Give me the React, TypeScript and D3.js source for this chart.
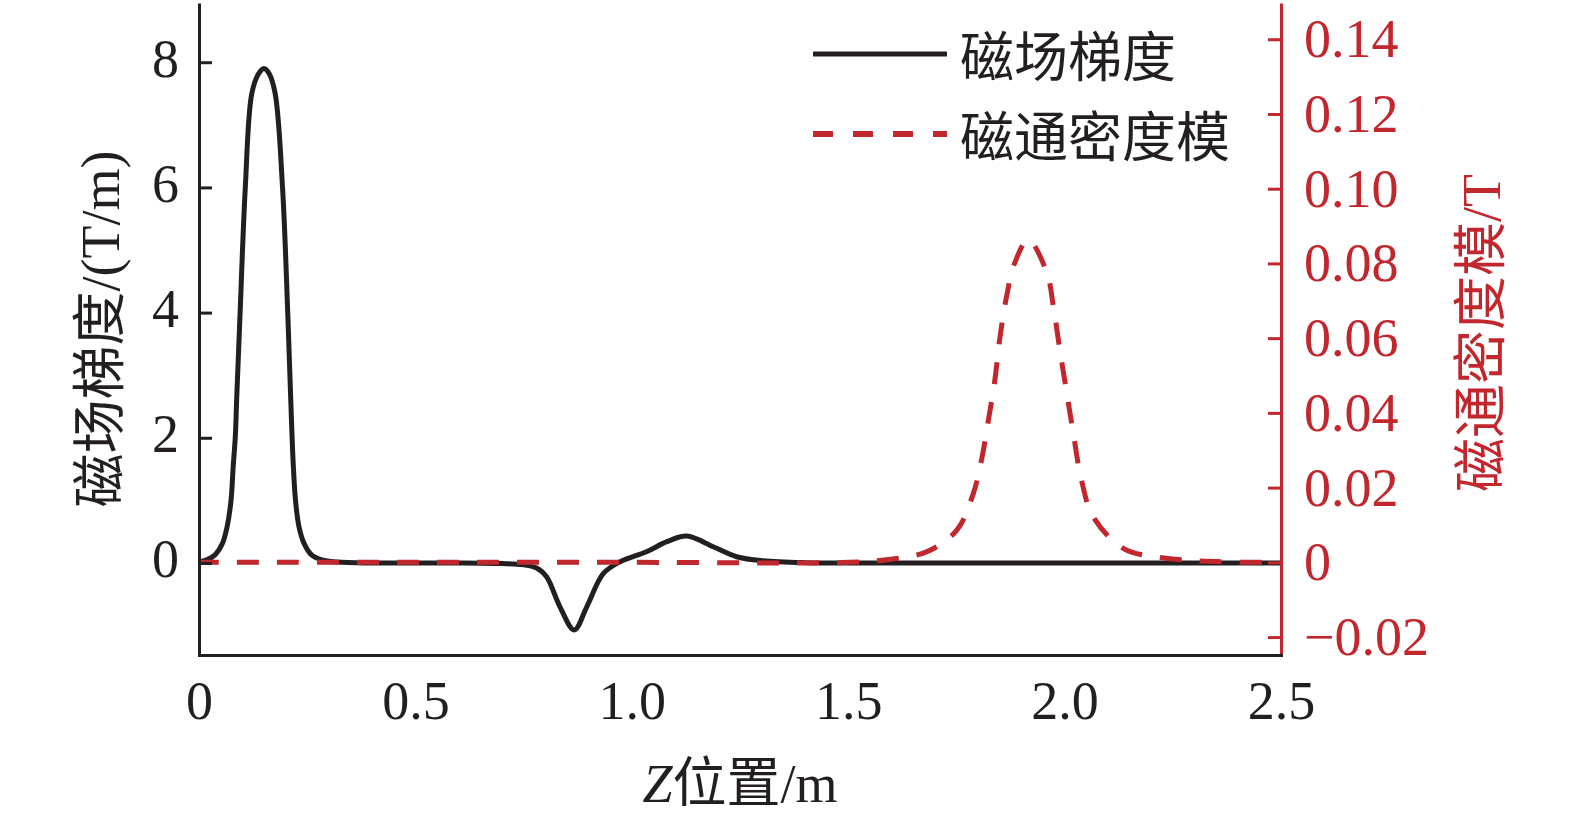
import React, { useRef, useEffect } from 'react';
import * as d3 from 'd3';

// 磁场梯度 (T/m) sampled along Z (m)
const zGrad = [
  0, 0.018, 0.037, 0.054, 0.065, 0.074, 0.079, 0.084, 0.087, 0.095, 0.107, 0.122, 0.138,
  0.15, 0.162, 0.176, 0.193, 0.205, 0.212, 0.215, 0.218, 0.223, 0.231, 0.243, 0.26, 0.284,
  0.32, 0.4, 0.6, 0.7, 0.75, 0.78, 0.803, 0.834, 0.867, 0.896, 0.934, 0.973, 1.034, 1.081,
  1.127, 1.188, 1.242, 1.304, 1.4, 1.6, 2.0, 2.5,
];
const gradValues = [
  0.02, 0.05, 0.13, 0.31, 0.58, 1.0, 1.54, 2.03, 2.61, 4.0, 6.0, 7.5, 7.82,
  7.9, 7.82, 7.5, 6.0, 4.0, 2.61, 2.03, 1.54, 1.0, 0.58, 0.31, 0.13, 0.05,
  0.015, 0, 0, -0.01, -0.03, -0.08, -0.22, -0.7, -1.07, -0.7, -0.17, 0.02, 0.18, 0.34,
  0.43, 0.26, 0.1, 0.035, 0.005, 0, 0, 0,
];

// 磁通密度模 (T) sampled along Z (m)
const zFlux = [
  0, 0.5, 1.0, 1.5, 1.589, 1.681, 1.751, 1.789, 1.808, 1.824, 1.839, 1.851, 1.866, 1.885,
  1.916, 1.959, 1.974, 1.989, 2.005, 2.02, 2.039, 2.066, 2.136, 2.22, 2.35, 2.5,
];
const fluxValues = [
  0, 0, 0, 0, 0.0007, 0.0028, 0.0086, 0.0184, 0.0274, 0.0381, 0.0489, 0.0605, 0.0712, 0.0802,
  0.0863, 0.0775, 0.0685, 0.0569, 0.0453, 0.0346, 0.022, 0.0122, 0.0037, 0.0013, 0.0002, 0,
];

const xTicks = [0, 0.5, 1.0, 1.5, 2.0, 2.5];
const xTickLabels = ['0', '0.5', '1.0', '1.5', '2.0', '2.5'];
const leftTicks = [0, 2, 4, 6, 8];
const rightTicks = [-0.02, 0, 0.02, 0.04, 0.06, 0.08, 0.1, 0.12, 0.14];
const rightTickLabels = ['\u22120.02', '0', '0.02', '0.04', '0.06', '0.08', '0.10', '0.12', '0.14'];
const legendLabels = ['磁场梯度', '磁通密度模'];

const WIDTH = 1575;
const HEIGHT = 819;
const INK = '#231f20';
const RED = '#c1272d';
const FONT = "'Liberation Serif', 'Times New Roman', 'Noto Sans CJK SC', serif";

const App: React.FC = () => {
  const svgRef = useRef<SVGSVGElement>(null);

  useEffect(() => {
    if (!svgRef.current) return;
    const svg = d3.select(svgRef.current);
    svg.selectAll('*').remove();

    const plot = { left: 199, right: 1281, top: 3, bottom: 655 };

    const x = d3.scaleLinear().domain([0, 2.5]).range([plot.left, plot.right]);
    const yLeft = d3.scaleLinear().domain([-1.47, 8.946]).range([plot.bottom, plot.top]);
    const yRight = d3.scaleLinear().domain([-0.0248, 0.1497]).range([plot.bottom, plot.top]);

    // curves
    const gradLine = d3.line<number>()
      .x((d, i) => x(zGrad[i]))
      .y(d => yLeft(d))
      .curve(d3.curveCatmullRom.alpha(0.5));

    const fluxLine = d3.line<number>()
      .x((d, i) => x(zFlux[i]))
      .y(d => yRight(d))
      .curve(d3.curveCatmullRom.alpha(0.5));

    svg.append('path')
      .datum(gradValues)
      .attr('fill', 'none')
      .attr('stroke', INK)
      .attr('stroke-width', 5)
      .attr('stroke-linejoin', 'round')
      .attr('d', gradLine);

    svg.append('path')
      .datum(fluxValues)
      .attr('fill', 'none')
      .attr('stroke', RED)
      .attr('stroke-width', 5)
      .attr('stroke-dasharray', '22,18')
      .attr('stroke-dashoffset', 2)
      .attr('d', fluxLine);

    // left axis (ticks pointing inward)
    const left = svg.append('g')
      .attr('transform', `translate(${plot.left},0)`)
      .call(
        d3.axisLeft(yLeft)
          .tickValues(leftTicks)
          .tickSizeInner(-13)
          .tickSizeOuter(0)
          .tickPadding(20)
          .tickFormat(d3.format('d'))
      );
    left.select('.domain').attr('stroke', INK).attr('stroke-width', 3);
    left.selectAll('.tick line').attr('stroke', INK).attr('stroke-width', 3);
    left.selectAll('text')
      .attr('dy', 14)
      .style('font-family', FONT)
      .style('font-size', '54px')
      .style('fill', INK);

    // right axis
    const right = svg.append('g')
      .attr('transform', `translate(${plot.right},0)`)
      .call(
        d3.axisRight(yRight)
          .tickValues(rightTicks)
          .tickSizeInner(-13)
          .tickSizeOuter(0)
          .tickPadding(23)
          .tickFormat((d, i) => rightTickLabels[i])
      );
    right.select('.domain').attr('stroke', RED).attr('stroke-width', 3);
    right.selectAll('.tick line').attr('stroke', RED).attr('stroke-width', 3);
    right.selectAll('text')
      .attr('dy', 17.5)
      .style('font-family', FONT)
      .style('font-size', '54px')
      .style('fill', RED);

    // bottom axis, no tick marks
    const bottom = svg.append('g')
      .attr('transform', `translate(0,${plot.bottom})`)
      .call(
        d3.axisBottom(x)
          .tickValues(xTicks)
          .tickSize(0)
          .tickPadding(64)
          .tickFormat((d, i) => xTickLabels[i])
      );
    bottom.select('.domain').attr('stroke', INK).attr('stroke-width', 3).attr('stroke-linecap', 'square');
    bottom.selectAll('text')
      .attr('dy', 0)
      .style('font-family', FONT)
      .style('font-size', '54px')
      .style('fill', INK);

    // axis titles
    const xTitle = svg.append('text')
      .attr('x', (plot.left + plot.right) / 2)
      .attr('y', 802)
      .attr('text-anchor', 'middle')
      .style('font-family', FONT)
      .style('font-size', '54px')
      .style('fill', INK);
    xTitle.append('tspan').style('font-style', 'italic').text('Z');
    xTitle.append('tspan').text('位置/m');

    svg.append('text')
      .attr('transform', `translate(119,${(plot.top + plot.bottom) / 2}) rotate(-90)`)
      .attr('text-anchor', 'middle')
      .style('font-family', FONT)
      .style('font-size', '54px')
      .style('fill', INK)
      .text('磁场梯度/(T/m)');

    svg.append('text')
      .attr('transform', `translate(1500,${(plot.top + plot.bottom) / 2 + 4}) rotate(-90)`)
      .attr('text-anchor', 'middle')
      .style('font-family', FONT)
      .style('font-size', '54px')
      .style('fill', RED)
      .text('磁通密度模/T');

    // legend
    const legendData = [
      { color: INK, dash: null as string | null, width: 5, text: legendLabels[0] },
      { color: RED, dash: '20,20', width: 6, text: legendLabels[1] },
    ];
    const legend = svg.selectAll('.legend')
      .data(legendData)
      .enter().append('g')
      .attr('class', 'legend')
      .attr('transform', (d, i) => `translate(0,${i * 80})`);

    legend.append('line')
      .attr('x1', 813)
      .attr('x2', 947)
      .attr('y1', 54)
      .attr('y2', 54)
      .attr('stroke', d => d.color)
      .attr('stroke-width', d => d.width)
      .attr('stroke-dasharray', d => d.dash);

    legend.append('text')
      .attr('x', 960)
      .attr('y', 77)
      .style('font-family', FONT)
      .style('font-size', '54px')
      .style('fill', INK)
      .text(d => d.text);
  }, []);

  return (
    <svg
      ref={svgRef}
      width={WIDTH}
      height={HEIGHT}
      style={{ position: 'absolute', left: 0, top: 0, background: '#fff' }}
    ></svg>
  );
};

export default App;
